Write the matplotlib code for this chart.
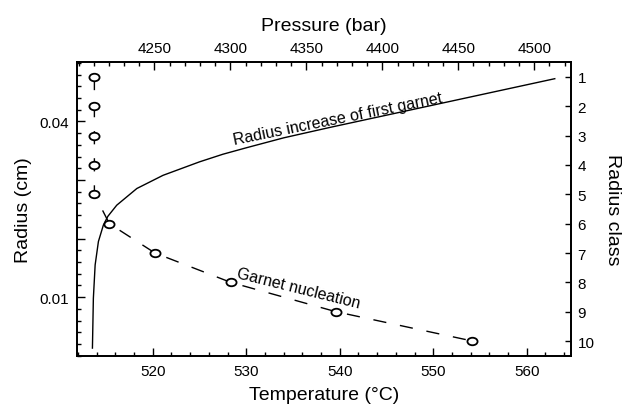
import matplotlib
matplotlib.use("Agg")
import matplotlib.pyplot as plt
from matplotlib.path import Path
from matplotlib.transforms import Affine2D
from matplotlib.ticker import MultipleLocator, FixedLocator

plt.rcParams['font.family'] = ['Liberation Sans', 'DejaVu Sans']

# radius of the first garnet vs temperature (left axis)
curve_temp = [513.55, 513.65, 513.84, 514.19, 514.72, 515.2, 516.15, 518.3,
              521.1, 525.0, 527.5, 530.0, 534.0, 539.0, 550.0, 563.0]
curve_radius = [0.0013, 0.0098, 0.0155, 0.0195, 0.0223, 0.0238, 0.0257, 0.02855,
                0.0308, 0.0331, 0.0344, 0.0355, 0.0372, 0.0390, 0.0428, 0.0473]

# nucleation temperature of each radius class (right axis)
class_temp = [513.76, 513.76, 513.76, 513.76, 513.76, 515.36, 520.24, 528.34, 539.59, 554.2]
radius_class = [1, 2, 3, 4, 5, 6, 7, 8, 9, 10]

radius_ticks = [0.01, 0.02, 0.03, 0.04]
radius_labels = ['0.01', '', '', '0.04']
pressure_ticks = [4250, 4300, 4350, 4400, 4450, 4500]

fig = plt.figure(figsize=(6.23, 4.14), dpi=100)
ax = fig.add_axes([0.1236, 0.1384, 0.7924, 0.7087])

ax.plot(curve_temp, curve_radius, color='black', lw=1.0)
ax.set_xlim(511.9, 564.7)
ax.set_ylim(0.0, 0.0501)
ax.xaxis.set_major_locator(MultipleLocator(10))
ax.xaxis.set_minor_locator(MultipleLocator(2))
ax.yaxis.set_major_locator(FixedLocator(radius_ticks))
ax.set_yticklabels(radius_labels)
ax.yaxis.set_minor_locator(MultipleLocator(0.002))
ax.set_xlabel('Temperature (°C)', fontsize=14, labelpad=6)
ax.set_ylabel('Radius (cm)', fontsize=14, labelpad=5)
ax.tick_params(which='both', direction='in', labelsize=11, width=1.0)
ax.tick_params(which='major', length=6, pad=6)
ax.tick_params(which='minor', length=3.2)
ax.text(539.8, 0.0405, 'Radius increase of first garnet', fontsize=11.5,
        rotation=11.5, ha='center', va='center', rotation_mode='anchor')

# right axis: radius classes
ax_r = ax.twinx()
ell = Path.unit_circle().transformed(Affine2D().scale(1.35, 1.0))
ax_r.plot(class_temp, radius_class, color='black', lw=1.0, dashes=(9.5, 10),
          marker=ell, ms=7.3, mfc='white', mec='black', mew=1.3)
ax_r.set_ylim(10.5, 0.5)
ax_r.set_yticks(radius_class)
ax_r.set_ylabel('Radius class', fontsize=14, rotation=270, va='bottom', labelpad=7)
ax_r.tick_params(direction='in', length=4.5, width=1.0, labelsize=11, pad=5)
ax_r.text(535.56, 8.2, 'Garnet nucleation', fontsize=11.5,
          rotation=-14, ha='center', va='center', rotation_mode='anchor')

# top axis: pressure
ax_t = ax.twiny()
ax_t.set_xlim(4199, 4524)
ax_t.xaxis.set_major_locator(FixedLocator(pressure_ticks))
ax_t.xaxis.set_minor_locator(MultipleLocator(10))
ax_t.set_xlabel('Pressure (bar)', fontsize=14, labelpad=8)
ax_t.tick_params(which='both', direction='in', labelsize=11, width=1.0)
ax_t.tick_params(which='major', length=6, pad=5)
ax_t.tick_params(which='minor', length=3.2)

for a in (ax, ax_r, ax_t):
    for s in a.spines.values():
        s.set_linewidth(1.1)

fig.savefig('out.png', dpi=100)
